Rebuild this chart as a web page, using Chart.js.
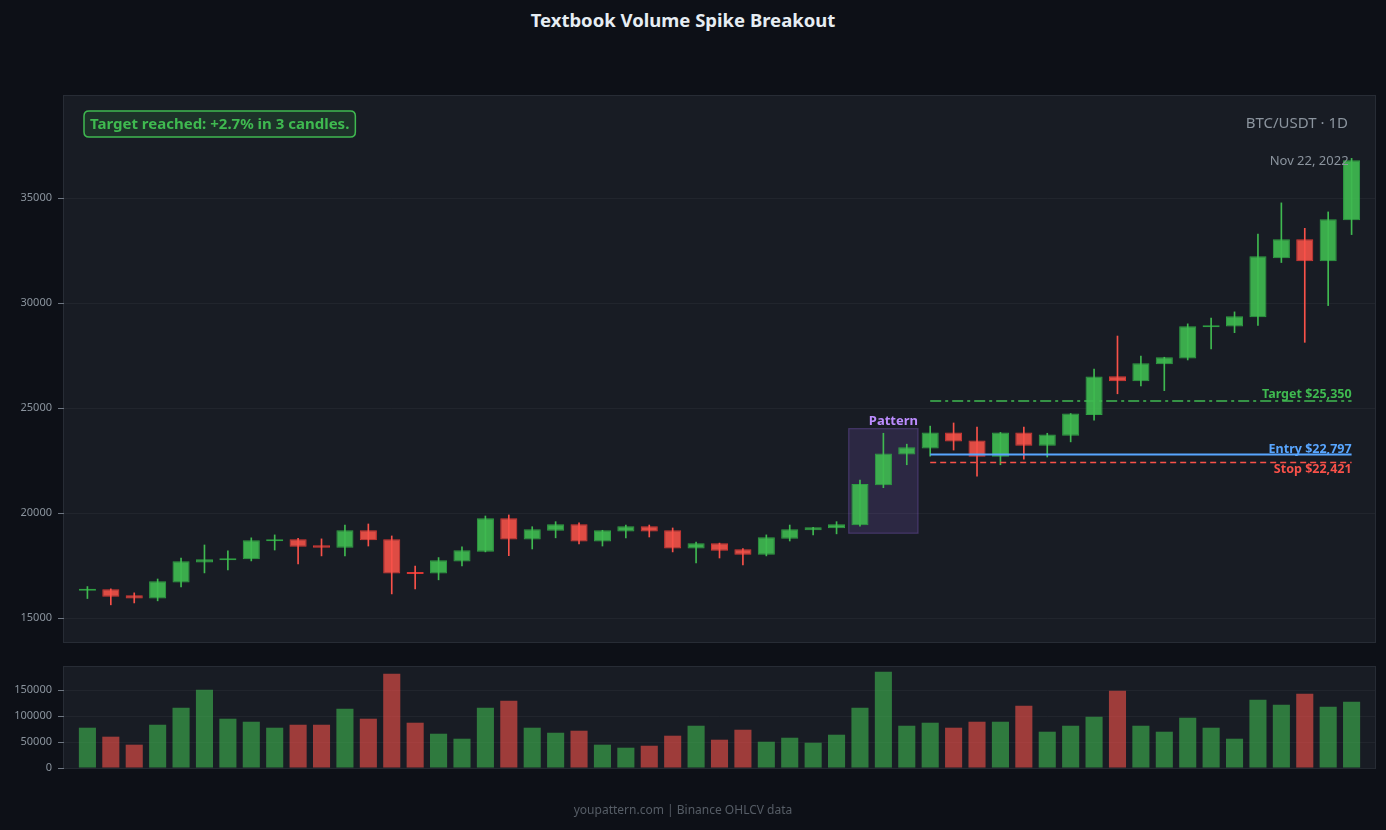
<!DOCTYPE html>
<html>
<head>
<meta charset="utf-8">
<title>Textbook Volume Spike Breakout</title>
<script src="https://cdn.jsdelivr.net/npm/chart.js@4.4.1/dist/chart.umd.min.js"></script>
<style>
  html, body { margin: 0; padding: 0; background: #0d1017; }
  body { width: 1386px; height: 830px; position: relative; overflow: hidden; font-family: "Noto Sans", sans-serif; }
  #title { position: absolute; left: 0; top: 8px; width: 1366px; text-align: center; color: #e6edf3; font-weight: 700; font-size: 18.5px; line-height: 24px; }
  #footer { position: absolute; left: 0; top: 801px; width: 1366px; text-align: center; color: #565d66; font-size: 12px; line-height: 18px; }
  canvas { position: absolute; left: 0; top: 0; }
</style>
</head>
<body>
<div id="title">Textbook Volume Spike Breakout</div>
<canvas id="price" width="1386" height="830"></canvas>
<canvas id="volume" width="1386" height="830"></canvas>
<div id="footer">youpattern.com | Binance OHLCV data</div>

<script>
// ====== DATA ======
const dates = [
  "Sep 29", "Sep 30",
  "Oct 1", "Oct 2", "Oct 3", "Oct 4", "Oct 5", "Oct 6", "Oct 7", "Oct 8", "Oct 9", "Oct 10",
  "Oct 11", "Oct 12", "Oct 13", "Oct 14", "Oct 15", "Oct 16", "Oct 17", "Oct 18", "Oct 19", "Oct 20",
  "Oct 21", "Oct 22", "Oct 23", "Oct 24", "Oct 25", "Oct 26", "Oct 27", "Oct 28", "Oct 29", "Oct 30", "Oct 31",
  "Nov 1", "Nov 2", "Nov 3", "Nov 4", "Nov 5", "Nov 6", "Nov 7", "Nov 8", "Nov 9", "Nov 10",
  "Nov 11", "Nov 12", "Nov 13", "Nov 14", "Nov 15", "Nov 16", "Nov 17", "Nov 18", "Nov 19", "Nov 20",
  "Nov 21", "Nov 22"
];

const opens = [
  16310, 16380, 16100, 15940, 16700, 17650, 17760, 17810, 18670, 18760,
  18480, 18360, 19190, 18760, 17190, 17130, 17700, 18170, 19760, 18750,
  19170, 19480, 18650, 19130, 19380, 19190, 18320, 18570, 18290, 18030,
  18790, 19190, 19290, 19430, 21330, 22800, 23090, 23850, 23470, 22690,
  23850, 23210, 23690, 24680, 26520, 26290, 27100, 27370, 28860, 28890,
  29330, 32140, 33050, 32000, 33950
];
const highs = [
  16510, 16400, 16210, 16870, 17870, 18490, 18210, 18830, 18970, 18810,
  18780, 19440, 19490, 18920, 17490, 17890, 18400, 19870, 19920, 19360,
  19600, 19540, 19190, 19440, 19440, 19300, 18630, 18580, 18320, 18970,
  19440, 19330, 19600, 21580, 23810, 23290, 24150, 24300, 24100, 23850,
  24100, 23810, 24750, 26870, 28440, 27490, 27430, 29020, 29300, 29590,
  33300, 34780, 33570, 34350, 36900
];
const lows = [
  15940, 15640, 15730, 15830, 16490, 17160, 17300, 17730, 18250, 17590,
  17970, 17970, 18440, 16160, 16400, 16830, 17490, 18160, 17980, 18300,
  18830, 18540, 18440, 18830, 18870, 18160, 17630, 17870, 17540, 17970,
  18680, 18970, 19020, 19380, 21220, 22310, 22720, 23010, 21770, 22310,
  22580, 22680, 23400, 24430, 25690, 26060, 25840, 27300, 27830, 28600,
  28940, 31940, 28140, 29890, 33270
];
const closes = [
  16350, 16030, 15940, 16760, 17710, 17810, 17860, 18710, 18760, 18410,
  18360, 19190, 18710, 17130, 17110, 17760, 18240, 19760, 18750, 19240,
  19480, 18650, 19190, 19380, 19130, 18320, 18570, 18220, 18030, 18860,
  19240, 19330, 19480, 21390, 22850, 23140, 23850, 23420, 22690, 23850,
  23210, 23750, 24750, 26510, 26290, 27140, 27430, 28900, 28950, 29380,
  32240, 33050, 32000, 34000, 36810
];
const volumes = [
  77600, 60300, 44900, 83300, 116000, 150600, 94900, 89100, 77600, 83300,
  83300, 114100, 94900, 181400, 87200, 66000, 56400, 116000, 129500, 77600,
  67900, 71800, 44900, 39100, 42900, 62200, 81400, 54500, 73700, 50600,
  58300, 48700, 64100, 116000, 185200, 81400, 87200, 77600, 89100, 89100,
  119900, 69900, 81400, 98700, 148700, 81400, 69900, 96800, 77600, 56400,
  131400, 121800, 142900, 117900, 127600
];

const priceTicks = [15000, 20000, 25000, 30000, 35000];
const volumeTicks = [0, 50000, 100000, 150000];

// pattern + trade levels
const patternFrom = 33, patternTo = 35;
const patternTop = 24030, patternBottom = 19050;
const levelsFrom = 36;
const targetPrice = 25350, entryPrice = 22797, stopPrice = 22421;
const symbolLabel = "BTC/USDT · 1D";
const resultLabel = "Target reached: +2.7% in 3 candles.";

// ====== COLORS ======
const C = {
  panel: "#181c24",
  panelBorder: "#272c35",
  grid: "rgba(255,255,255,0.045)",
  tick: "#8b949e",
  tickMark: "#6e7681",
  up: "#3fb950",
  upBody: "rgba(63,185,80,0.92)",
  upBorder: "#2ea043",
  down: "#f85149",
  downBody: "rgba(240,80,72,0.92)",
  downBorder: "#da3633",
  upVol: "rgba(63,185,80,0.6)",
  downVol: "rgba(248,81,73,0.6)",
  entry: "#58a6ff",
  purple: "#bc8cff",
};

Chart.defaults.font.family = '"Noto Sans", sans-serif';
Chart.defaults.color = C.tick;

// one empty slot on each side, like the original x padding
const slots = ["", ...dates, ""];
const pad = (arr) => [null, ...arr, null];
const isUp = opens.map((o, i) => closes[i] >= o);
const fmtUsd = (v) => "$" + v.toLocaleString("en-US");

// ====== PLUGINS ======
const panelBg = {
  id: "panelBg",
  beforeDraw(chart) {
    const { ctx, chartArea: a } = chart;
    ctx.save();
    ctx.fillStyle = C.panel;
    ctx.fillRect(a.left, a.top, a.right - a.left, a.bottom - a.top);
    ctx.strokeStyle = C.panelBorder;
    ctx.lineWidth = 1;
    ctx.strokeRect(a.left - 0.5, a.top - 0.5, a.right - a.left + 1, a.bottom - a.top + 1);
    ctx.restore();
  },
};

function roundRect(ctx, x, y, w, h, r) {
  ctx.beginPath();
  ctx.moveTo(x + r, y);
  ctx.lineTo(x + w - r, y);
  ctx.quadraticCurveTo(x + w, y, x + w, y + r);
  ctx.lineTo(x + w, y + h - r);
  ctx.quadraticCurveTo(x + w, y + h, x + w - r, y + h);
  ctx.lineTo(x + r, y + h);
  ctx.quadraticCurveTo(x, y + h, x, y + h - r);
  ctx.lineTo(x, y + r);
  ctx.quadraticCurveTo(x, y, x + r, y);
  ctx.closePath();
}

const xAt = (chart, i) => chart.scales.x.getPixelForValue(i + 1);

const annotations = {
  id: "annotations",
  beforeDatasetsDraw(chart) {
    const { ctx, scales: { y } } = chart;
    const step = xAt(chart, 1) - xAt(chart, 0);
    const left = xAt(chart, patternFrom) - step * 0.48;
    const right = xAt(chart, patternTo) + step * 0.48;
    const top = y.getPixelForValue(patternTop);
    const bottom = y.getPixelForValue(patternBottom);
    ctx.save();
    ctx.fillStyle = "rgba(163,113,247,0.15)";
    ctx.fillRect(left, top, right - left, bottom - top);
    ctx.strokeStyle = "rgba(163,113,247,0.28)";
    ctx.lineWidth = 1.2;
    ctx.strokeRect(left, top, right - left, bottom - top);
    ctx.font = "bold 13px 'Noto Sans'";
    ctx.fillStyle = C.purple;
    ctx.textAlign = "right";
    ctx.textBaseline = "alphabetic";
    ctx.fillText("Pattern", right, top - 4);
    ctx.restore();
  },
  afterDatasetsDraw(chart) {
    const { ctx, chartArea: a, scales: { y } } = chart;
    const last = dates.length - 1;
    const x0 = xAt(chart, levelsFrom);
    const x1 = xAt(chart, last);
    ctx.save();

    // target
    let yy = y.getPixelForValue(targetPrice);
    ctx.strokeStyle = C.up;
    ctx.lineWidth = 1.5;
    ctx.setLineDash([11, 4, 3, 4]);
    ctx.beginPath(); ctx.moveTo(x0, yy); ctx.lineTo(x1, yy); ctx.stroke();
    ctx.font = "bold 12.5px 'Noto Sans'";
    ctx.textAlign = "right";
    ctx.fillStyle = C.up;
    ctx.textBaseline = "alphabetic";
    ctx.fillText("Target " + fmtUsd(targetPrice), x1, yy - 3);

    // stop
    yy = y.getPixelForValue(stopPrice);
    ctx.strokeStyle = C.down;
    ctx.setLineDash([6, 4]);
    ctx.beginPath(); ctx.moveTo(x0, yy); ctx.lineTo(x1, yy); ctx.stroke();
    ctx.fillStyle = C.down;
    ctx.textBaseline = "top";
    ctx.fillText("Stop " + fmtUsd(stopPrice), x1, yy + 1);

    // entry
    yy = y.getPixelForValue(entryPrice);
    ctx.strokeStyle = C.entry;
    ctx.lineWidth = 2;
    ctx.setLineDash([]);
    ctx.beginPath(); ctx.moveTo(x0, yy); ctx.lineTo(x1, yy); ctx.stroke();
    ctx.fillStyle = C.entry;
    ctx.textBaseline = "alphabetic";
    ctx.fillText("Entry " + fmtUsd(entryPrice), x1, yy - 2);

    // result badge
    ctx.font = "bold 15px 'Noto Sans'";
    const tw = ctx.measureText(resultLabel).width;
    const bx = a.left + 20, by = a.top + 15, bw = tw + 12, bh = 26;
    roundRect(ctx, bx, by, bw, bh, 5);
    ctx.fillStyle = "rgba(63,185,80,0.14)";
    ctx.fill();
    ctx.strokeStyle = C.up;
    ctx.lineWidth = 1.5;
    ctx.stroke();
    ctx.fillStyle = C.up;
    ctx.textAlign = "left";
    ctx.textBaseline = "middle";
    ctx.fillText(resultLabel, bx + 6, by + bh / 2 + 0.5);

    // symbol + last date
    ctx.font = "15px 'Noto Sans'";
    ctx.fillStyle = C.tick;
    ctx.textAlign = "right";
    ctx.fillText(symbolLabel, a.right - 27, a.top + 28);
    ctx.font = "13px 'Noto Sans'";
    ctx.fillText(dates[last] + ", 2022", x1 - 3, y.getPixelForValue(highs[last]) + 3);
    ctx.restore();
  },
};

// ====== SHARED AXIS SETUP ======
const yAxisWidth = (scale) => { scale.width = 64; };
const fixedTicks = (values) => (scale) => { scale.ticks = values.map((v) => ({ value: v })); };

// ====== PRICE CHART ======
new Chart(document.getElementById("price"), {
  type: "bar",
  data: {
    labels: slots,
    datasets: [
      {
        label: "Wick",
        data: pad(lows.map((l, i) => [l, highs[i]])),
        backgroundColor: pad(isUp.map((u) => (u ? C.up : C.down))),
        barThickness: 1,
        grouped: false,
        order: 0,
      },
      {
        label: "Body",
        data: pad(opens.map((o, i) => [o, closes[i]])),
        backgroundColor: pad(isUp.map((u) => (u ? C.upBody : C.downBody))),
        borderColor: pad(isUp.map((u) => (u ? C.upBorder : C.downBorder))),
        borderWidth: 1,
        borderSkipped: false,
        barPercentage: 0.73,
        categoryPercentage: 1,
        minBarLength: 2,
        grouped: false,
        order: 1,
      },
    ],
  },
  options: {
    responsive: false,
    animation: false,
    layout: { padding: { top: 96, right: 11, bottom: 188, left: 0 } },
    plugins: { legend: { display: false }, tooltip: { enabled: false } },
    scales: {
      x: { display: false, offset: false },
      y: {
        min: 13870,
        max: 39870,
        afterFit: yAxisWidth,
        afterBuildTicks: fixedTicks(priceTicks),
        border: { display: false },
        grid: { color: C.grid, tickColor: C.tickMark, tickLength: 6 },
        ticks: {
          padding: 6,
          color: C.tick,
          font: { size: 11 },
          callback: (v) => String(v),
        },
      },
    },
  },
  plugins: [panelBg, annotations],
});

// ====== VOLUME CHART ======
new Chart(document.getElementById("volume"), {
  type: "bar",
  data: {
    labels: slots,
    datasets: [
      {
        label: "Volume",
        data: pad(volumes),
        backgroundColor: pad(isUp.map((u) => (u ? C.upVol : C.downVol))),
        barPercentage: 0.73,
        categoryPercentage: 1,
      },
    ],
  },
  options: {
    responsive: false,
    animation: false,
    layout: { padding: { top: 667, right: 11, bottom: 62, left: 0 } },
    plugins: { legend: { display: false }, tooltip: { enabled: false } },
    scales: {
      x: { display: false, offset: false },
      y: {
        min: 0,
        max: 194460,
        z: 1,
        afterFit: yAxisWidth,
        afterBuildTicks: fixedTicks(volumeTicks),
        border: { display: false },
        grid: { color: "rgba(36,40,48,0.75)", tickColor: C.tickMark, tickLength: 6 },
        ticks: {
          padding: 6,
          color: C.tick,
          font: { size: 11 },
          callback: (v) => String(v),
        },
      },
    },
  },
  plugins: [panelBg],
});
</script>
</body>
</html>
